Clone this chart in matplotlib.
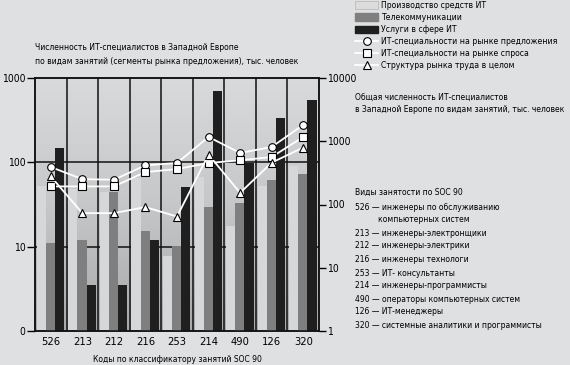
import numpy as np
import matplotlib
matplotlib.use("Agg")
import matplotlib.pyplot as plt
from matplotlib.patches import Patch
from matplotlib.lines import Line2D
from matplotlib import font_manager
from matplotlib.colors import LinearSegmentedColormap

codes = ['526', '213', '212', '216', '253', '214', '490', '126', '320']
production = [53, 48, 45, 65, 7.8, 67, 17.5, 53, 90]
telecom = [11.2, 12.1, 44, 15.5, 10.3, 29.4, 32.5, 61.6, 72]
services = [147, 3.5, 3.5, 12.1, 51.5, 706, 99, 334, 547]

supply = [391, 252, 246, 416, 453, 1170, 653, 812, 1815]
demand = [193, 193, 193, 326, 363, 453, 500, 563, 1170]
structure = [278, 73, 73, 91, 64.5, 614, 153, 459, 795]

occupations = [
    ('526', 'инженеры по обслуживанию', 'компьютерных систем'),
    ('213', 'инженеры-электронщики', ''),
    ('212', 'инженеры-электрики', ''),
    ('216', 'инженеры технологи', ''),
    ('253', 'ИТ- консультанты', ''),
    ('214', 'инженеры-программисты', ''),
    ('490', 'операторы компьютерных систем', ''),
    ('126', 'ИТ-менеджеры', ''),
    ('320', 'системные аналитики и программисты', ''),
]

# pick a narrow font if one is installed
names = {f.name: f for f in font_manager.fontManager.ttflist}
narrow = None
stretch = 'normal'
for cand in ['Liberation Sans Narrow', 'DejaVu Sans Condensed']:
    if cand in names:
        narrow = cand
        break
if narrow is None:
    for f in font_manager.fontManager.ttflist:
        if f.name == 'DejaVu Sans' and str(f.stretch) in ('condensed', 'semi-condensed', '500', '300'):
            narrow = 'DejaVu Sans'
            stretch = 'condensed'
            break
found = narrow is not None
if narrow is None:
    narrow = 'Liberation Sans'
plt.rcParams['font.family'] = [narrow, 'DejaVu Sans']
plt.rcParams['font.stretch'] = stretch
TXT = 6.1 if found else 5.7
TICK = 7.5

W, H = 570, 365
fig = plt.figure(figsize=(W / 100, H / 100), dpi=100)
fig.patch.set_facecolor('#dfe0e1')

L, R, T, B = 35, 319, 78, 331
ax = fig.add_axes([L / W, 1 - B / H, (R - L) / W, (B - T) / H])
ax.set_yscale('log')
ax.set_ylim(1, 1000)
n = len(codes)
ax.set_xlim(-0.5, n - 0.5)

grad = np.linspace(0, 1, 256).reshape(-1, 1)
cmap = LinearSegmentedColormap.from_list('bg', ['#d8dadc', '#c6c7c8', '#a8a9aa'])
ax.imshow(grad, cmap=cmap, aspect='auto', extent=[0, 1, 0, 1],
          transform=ax.transAxes, zorder=0)

x = np.arange(n)
w = 0.29
ax.bar(x - 0.30, np.array(production) - 1, w, bottom=1, color='#d6d7d8', zorder=2, linewidth=0)
ax.bar(x - 0.01, np.array(telecom) - 1, w, bottom=1, color='#7f7f7f', zorder=3, linewidth=0)
ax.bar(x + 0.28, np.array(services) - 1, w, bottom=1, color='#1f1f1f', zorder=4, linewidth=0)

for xb in np.arange(0.5, n - 0.5, 1):
    ax.axvline(xb, color='#111111', lw=1.1, zorder=1)
for yv in [10, 100]:
    ax.axhline(yv, color='#111111', lw=1.1, zorder=1)

ax.set_yticks([1, 10, 100, 1000])
ax.set_yticklabels(['0', '10', '100', '1000'])
ax.yaxis.set_minor_locator(matplotlib.ticker.NullLocator())
ax.set_xticks(x)
ax.set_xticklabels(codes)
ax.tick_params(axis='x', length=0, pad=4, labelsize=TICK + 0.5)
ax.tick_params(axis='y', length=6, width=1, labelsize=TICK, pad=1)
for s in ax.spines.values():
    s.set_color('#111111')
    s.set_linewidth(1.1)
ax.set_xlabel('Коды по классификатору занятий SOC 90', fontsize=TXT, labelpad=6)

ax2 = ax.twinx()
ax2.set_yscale('log')
ax2.set_ylim(1, 10000)
ax2.set_yticks([1, 10, 100, 1000, 10000])
ax2.set_yticklabels(['1', '10', '100', '1000', '10000'])
ax2.yaxis.set_minor_locator(matplotlib.ticker.NullLocator())
ax2.tick_params(axis='y', length=5, width=1, labelsize=TICK, pad=1)
for s in ax2.spines.values():
    s.set_color('#111111')
    s.set_linewidth(1.1)

mk = dict(color='white', lw=1.3, markerfacecolor='white', markeredgecolor='black',
          markeredgewidth=0.8, markersize=5.5)
ax2.plot(x, supply, marker='o', zorder=5, **mk)
ax2.plot(x, demand, marker='s', zorder=5, **mk)
ax2.plot(x, structure, marker='^', zorder=5, **mk)

fig.text(35 / W, 1 - 47 / H, 'Численность ИТ-специалистов в Западной Европе',
         fontsize=TXT, va='center', ha='left')
fig.text(35 / W, 1 - 62 / H, 'по видам занятий (сегменты рынка предложения), тыс. человек',
         fontsize=TXT, va='center', ha='left')
fig.text(355 / W, 1 - 97 / H, 'Общая численность ИТ-специалистов', fontsize=TXT, va='center')
fig.text(355 / W, 1 - 110 / H, 'в Западной Европе по видам занятий, тыс. человек', fontsize=TXT, va='center')
fig.text(355 / W, 1 - 192 / H, 'Виды занятости по SOC 90', fontsize=TXT, va='center')

ys = [207, 233, 246, 259, 273, 286, 299, 312, 326]
for (code, d1, d2), yy in zip(occupations, ys):
    fig.text(355 / W, 1 - yy / H, code + ' — ' + d1, fontsize=TXT, va='center')
    if d2:
        fig.text(378 / W, 1 - (yy + 12) / H, d2, fontsize=TXT, va='center')

lmk = dict(mk)
handles = [
    Patch(facecolor='#dcdcdc', edgecolor='#bbbbbb', lw=0.6, label='Производство средств ИТ'),
    Patch(facecolor='#7f7f7f', edgecolor='#7f7f7f', label='Телекоммуникации'),
    Patch(facecolor='#1f1f1f', edgecolor='#1f1f1f', label='Услуги в сфере ИТ'),
    Line2D([], [], marker='o', label='ИТ-специальности на рынке предложения', **lmk),
    Line2D([], [], marker='s', label='ИТ-специальности на рынке спроса', **lmk),
    Line2D([], [], marker='^', label='Структура рынка труда в целом', **lmk),
]
fig.legend(handles=handles, loc='upper left', bbox_to_anchor=(355 / W, 1 - 1 / H),
           frameon=False, fontsize=TXT + 0.1, handlelength=2.7, handleheight=0.95,
           labelspacing=0.36, handletextpad=0.35, borderaxespad=0, borderpad=0.0,
           numpoints=1)

fig.savefig('out.png', dpi=100, facecolor=fig.get_facecolor())
